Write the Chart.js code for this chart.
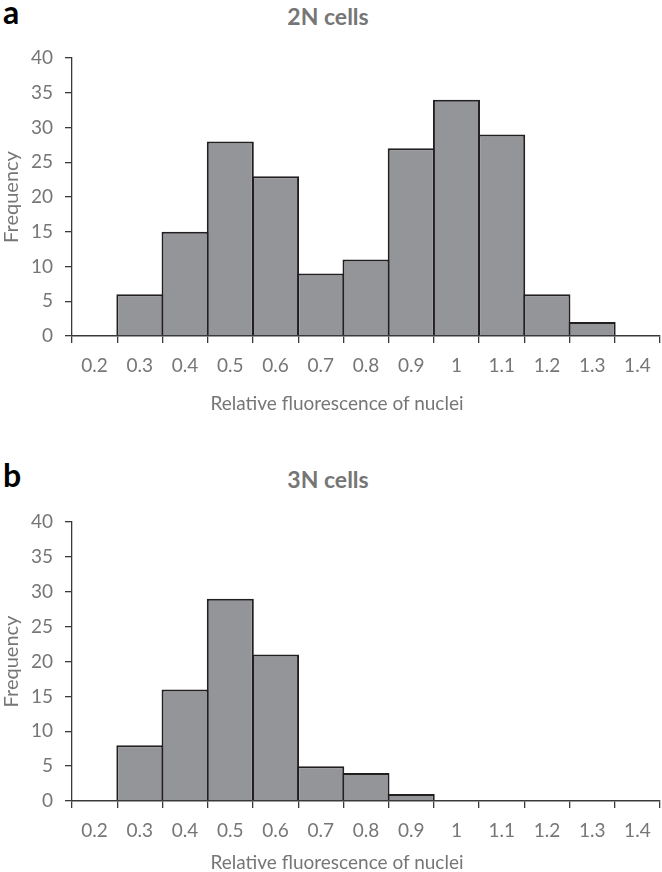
<!DOCTYPE html>
<html>
<head>
<meta charset="utf-8">
<script src="https://cdn.jsdelivr.net/npm/chart.js@4"></script>
<style>
  body { margin: 0; background: #fff; width: 662px; height: 872px; position: relative; overflow: hidden; }
  canvas { position: absolute; left: 0; }
  .panel { position: absolute; font-family: 'Lato', sans-serif; font-weight: 700; color: #000; font-size: 32px; line-height: 1; }
  .title { position: absolute; font-family: 'Lato', sans-serif; font-weight: 700; color: #767676; font-size: 23px; line-height: 1; transform: translateX(-50%); white-space: nowrap; }
  .xtitle { position: absolute; font-family: 'Lato', sans-serif; color: #767676; font-size: 19px; line-height: 1; transform: translate(-50%, -50%); white-space: nowrap; }
</style>
</head>
<body>
<div class="panel" style="left:3px; top:-4px;">a</div>
<div class="title" style="left:328px; top:5px;">2N cells</div>
<canvas id="chartA" width="662" height="413" style="top:0px;"></canvas>
<div class="xtitle" style="left:337px; top:402px;">Relative fluorescence of nuclei</div>

<div class="panel" style="left:3px; top:459px;">b</div>
<div class="title" style="left:328px; top:468px;">3N cells</div>
<canvas id="chartB" width="662" height="408" style="top:464px;"></canvas>
<div class="xtitle" style="left:337px; top:861px;">Relative fluorescence of nuclei</div>

<script>
// bins of relative fluorescence
const bins = ['0.2', '0.3', '0.4', '0.5', '0.6', '0.7', '0.8', '0.9', '1', '1.1', '1.2', '1.3', '1.4'];

// counts per bin
const freq2N = [0, 6, 15, 28, 23, 9, 11, 27, 34, 29, 6, 2, 0];
const freq3N = [0, 8, 16, 29, 21, 5, 4, 1, 0, 0, 0, 0, 0];

const yTicksMax = 40;
const yTicksStep = 5;

const textGray = '#767676';
const axisColor = '#3a3a3a';

Chart.defaults.font.family = 'Lato, sans-serif';
Chart.defaults.color = textGray;

function makeHistogram(canvas, values, xHeight) {
  return new Chart(canvas, {
    type: 'bar',
    data: {
      labels: bins,
      datasets: [{
        data: values,
        backgroundColor: '#939598',
        borderColor: '#231f20',
        borderWidth: 2,
        borderSkipped: 'start',
        barPercentage: 1.04,
        categoryPercentage: 1
      }]
    },
    options: {
      responsive: false,
      animation: false,
      layout: { padding: { top: 58, right: 2, left: 0, bottom: 0 } },
      plugins: { legend: { display: false }, tooltip: { enabled: false } },
      scales: {
        x: {
          grid: { offset: true, drawOnChartArea: false, drawTicks: true, tickLength: 7, color: axisColor, lineWidth: 1.3 },
          border: { display: true, color: axisColor, width: 1.5, z: 1 },
          ticks: { padding: 11, font: { size: 19 }, color: textGray, maxRotation: 0 },
          afterFit: s => { s.height = xHeight; }
        },
        y: {
          min: 0,
          max: yTicksMax,
          ticks: { stepSize: yTicksStep, padding: 12, font: { size: 19 }, color: textGray },
          grid: { drawOnChartArea: false, drawTicks: true, tickLength: 7, color: axisColor, lineWidth: 1.3 },
          border: { display: true, color: axisColor, width: 1.3, z: 1 },
          title: { display: true, text: 'Frequency', font: { size: 20 }, color: textGray, padding: 0 },
          afterFit: s => { s.width = 72; }
        }
      }
    }
  });
}

makeHistogram(document.getElementById('chartA'), freq2N, 77);
makeHistogram(document.getElementById('chartB'), freq3N, 71);
</script>
</body>
</html>
